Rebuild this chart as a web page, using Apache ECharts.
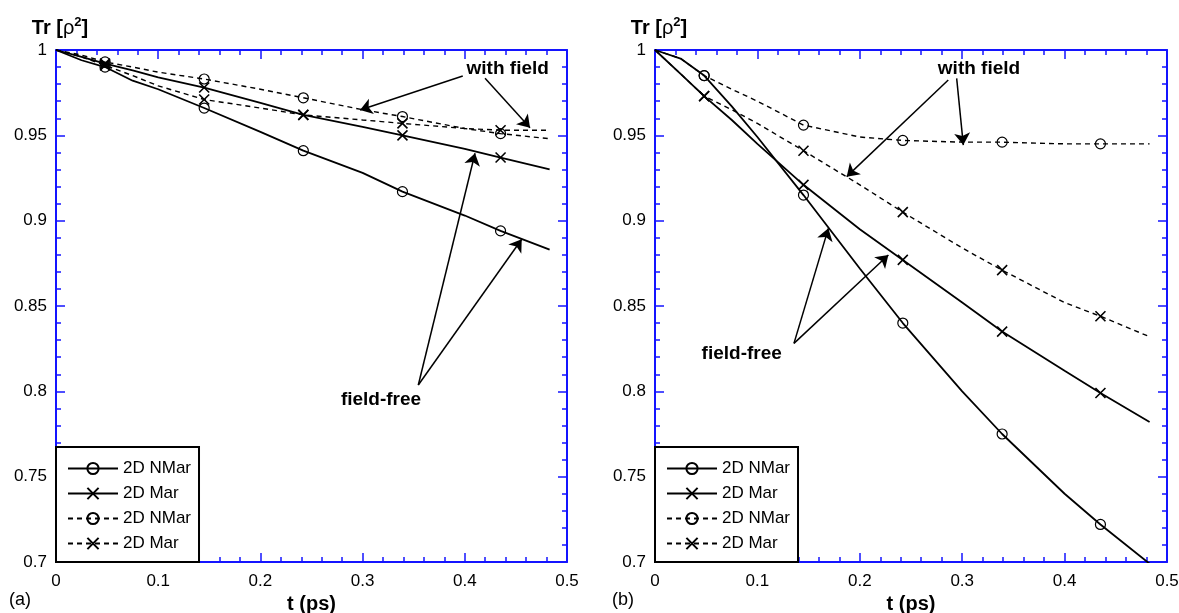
<!DOCTYPE html>
<html><head><meta charset="utf-8">
<script src="https://cdn.jsdelivr.net/npm/echarts@6/dist/echarts.min.js"></script>
<style>html,body{margin:0;padding:0;background:#fff}#c{width:1179px;height:613px}</style>
</head><body><div id="c"></div>
<script>
// ---------------- data ----------------
const tValues = [0, 0.025, 0.048, 0.075, 0.1, 0.145, 0.2, 0.242, 0.3, 0.339, 0.4, 0.435, 0.483];
const markerT = [0.048, 0.145, 0.242, 0.339, 0.435];

// panel (a)
const aSolidNMar = [1, 0.994, 0.990, 0.982, 0.977, 0.966, 0.952, 0.941, 0.928, 0.917, 0.903, 0.894, 0.883];
const aSolidMar  = [1, 0.996, 0.992, 0.988, 0.984, 0.978, 0.969, 0.962, 0.955, 0.950, 0.942, 0.937, 0.930];
const aDashNMar  = [1, 0.997, 0.993, 0.990, 0.987, 0.983, 0.977, 0.972, 0.965, 0.961, 0.954, 0.951, 0.948];
const aDashMar   = [1, 0.996, 0.991, 0.985, 0.979, 0.971, 0.966, 0.962, 0.959, 0.957, 0.954, 0.953, 0.953];

// panel (b)
const bSolidNMar = [1, 0.995, 0.985, 0.967, 0.949, 0.915, 0.872, 0.840, 0.800, 0.775, 0.740, 0.722, 0.699];
const bSolidMar  = [1, 0.986, 0.973, 0.959, 0.945, 0.921, 0.895, 0.877, 0.852, 0.835, 0.812, 0.799, 0.782];
const bDashNMar  = [1, 0.995, 0.985, 0.977, 0.970, 0.956, 0.949, 0.947, 0.946, 0.946, 0.945, 0.945, 0.945];
const bDashMar   = [1, 0.986, 0.973, 0.965, 0.957, 0.941, 0.921, 0.905, 0.884, 0.871, 0.852, 0.844, 0.832];

const seriesNames = ['2D NMar', '2D Mar', '2D NMar ', '2D Mar '];
const xTickLabels = ['0', '0.1', '0.2', '0.3', '0.4', '0.5'];
const yTickLabels = ['0.7', '0.75', '0.8', '0.85', '0.9', '0.95', '1'];
const panelLabels = ['(a)', '(b)'];

// annotations (data coordinates)
const annotA = {
  texts: [{ text: 'with field', at: [0.442, 0.9889] }, { text: 'field-free', at: [0.318, 0.795] }],
  arrows: [
    { from: [0.398, 0.9848], to: [0.2975, 0.9648] },
    { from: [0.4198, 0.9834], to: [0.4638, 0.9545] },
    { from: [0.3545, 0.8037], to: [0.410, 0.9395] },
    { from: [0.3545, 0.8037], to: [0.4557, 0.8891] }
  ]
};
const annotB = {
  texts: [{ text: 'with field', at: [0.3164, 0.9889] }, { text: 'field-free', at: [0.0847, 0.8223] }],
  arrows: [
    { from: [0.2864, 0.9824], to: [0.1872, 0.9258] },
    { from: [0.2946, 0.9834], to: [0.3011, 0.9443] },
    { from: [0.1357, 0.8281], to: [0.1693, 0.8955] },
    { from: [0.1357, 0.8281], to: [0.2279, 0.8799] }
  ]
};

// ---------------- styling / building ----------------
const FONT = 'Liberation Sans, Arial, Helvetica, sans-serif';
const BLUE = '#1414ff';
const X_PATH = 'path://M0,0L10,10M0,10L10,0';

function buildData(values) {
  return tValues.map((t, i) => markerT.indexOf(t) >= 0
    ? [t, values[i]]
    : { value: [t, values[i]], symbol: 'none' });
}

function mkSeries(name, values, g, dashed, isX, annot) {
  const s = {
    name: name, type: 'line', xAxisIndex: 2 * g, yAxisIndex: 2 * g,
    data: buildData(values),
    smooth: false,
    showSymbol: true, showAllSymbol: true,
    symbol: isX ? X_PATH : 'circle',
    symbolSize: 10,
    lineStyle: { color: '#000', width: dashed ? 1.4 : 1.8, type: dashed ? [5, 4] : 'solid' },
    itemStyle: { color: 'rgba(0,0,0,0)', borderColor: '#000', borderWidth: isX ? 1.6 : 1.2 },
    emphasis: { disabled: true },
    z: 3
  };
  if (annot) {
    s.markLine = {
      silent: true, animation: false,
      symbol: ['none', 'arrow'], symbolSize: 12,
      label: { show: false },
      itemStyle: { color: '#000' },
      lineStyle: { color: '#000', width: 1.5, type: 'solid' },
      emphasis: { disabled: true },
      data: annot.arrows.map(a => [{ coord: a.from }, { coord: a.to }])
    };
    s.markPoint = {
      silent: true, animation: false,
      symbol: 'rect', symbolSize: 1,
      itemStyle: { color: 'rgba(0,0,0,0)' },
      label: { show: true, position: 'inside', formatter: '{b}', color: '#000',
               fontFamily: FONT, fontSize: 19, fontWeight: 'bold' },
      emphasis: { disabled: true },
      data: annot.texts.map(tx => ({ name: tx.text, coord: tx.at }))
    };
  }
  return s;
}

const grids = [
  { left: 56, top: 50, width: 511, height: 512, outerBoundsMode: 'none', containLabel: false },
  { left: 655, top: 50, width: 512, height: 512, outerBoundsMode: 'none', containLabel: false }
];

const xAxes = [], yAxes = [];
grids.forEach((gr, g) => {
  const tickCommon = {
    axisLine: { show: true, onZero: false, lineStyle: { color: BLUE, width: 2 } },
    axisTick: { show: true, inside: true, length: 9, lineStyle: { color: BLUE, width: 1.5 } },
    minorTick: { show: true, splitNumber: 5, length: 5, lineStyle: { color: BLUE, width: 1.5 } },
    splitLine: { show: false }
  };
  xAxes.push(Object.assign({
    type: 'value', gridIndex: g, position: 'bottom', min: 0, max: 0.5, interval: 0.1,
    axisLabel: { show: true, margin: 11, color: '#000', fontFamily: FONT, fontSize: 17,
                 formatter: v => xTickLabels[Math.round(v / 0.1)] },
    name: 't (ps)', nameLocation: 'middle', nameGap: 29,
    nameTextStyle: { color: '#000', fontFamily: FONT, fontSize: 20, fontWeight: 'bold' }
  }, tickCommon));
  xAxes.push(Object.assign({
    type: 'value', gridIndex: g, position: 'top', min: 0, max: 0.5, interval: 0.1,
    axisLabel: { show: false }
  }, tickCommon));
  yAxes.push(Object.assign({
    type: 'value', gridIndex: g, position: 'left', min: 0.7, max: 1, interval: 0.05,
    axisLabel: { show: true, margin: 9, color: '#000', fontFamily: FONT, fontSize: 17,
                 formatter: v => yTickLabels[Math.round((v - 0.7) / 0.05)] },
    name: '{a|Tr [}{b|ρ}{c|2}{a|]}', nameLocation: 'end', nameGap: 10,
    nameTextStyle: {
      padding: [0, 0, 0, 8],
      rich: {
        a: { fontFamily: FONT, fontSize: 20, fontWeight: 'bold', color: '#000', lineHeight: 24 },
        b: { fontFamily: FONT, fontSize: 20, color: '#000', lineHeight: 24 },
        c: { fontFamily: FONT, fontSize: 13, fontWeight: 'bold', color: '#000', verticalAlign: 'top', lineHeight: 15 }
      }
    }
  }, tickCommon));
  yAxes.push(Object.assign({
    type: 'value', gridIndex: g, position: 'right', min: 0.7, max: 1, interval: 0.05,
    axisLabel: { show: false }
  }, tickCommon));
});

const series = [
  mkSeries(seriesNames[0], aSolidNMar, 0, false, false, annotA),
  mkSeries(seriesNames[1], aSolidMar, 0, false, true),
  mkSeries(seriesNames[2], aDashNMar, 0, true, false),
  mkSeries(seriesNames[3], aDashMar, 0, true, true),
  mkSeries(seriesNames[0], bSolidNMar, 1, false, false, annotB),
  mkSeries(seriesNames[1], bSolidMar, 1, false, true),
  mkSeries(seriesNames[2], bDashNMar, 1, true, false),
  mkSeries(seriesNames[3], bDashMar, 1, true, true)
];

const legends = grids.map(gr => ({
  data: seriesNames.slice(),
  orient: 'vertical', align: 'left',
  left: gr.left, top: 447,
  padding: [13, 8, 10, 11],
  itemWidth: 50, itemHeight: 14, itemGap: 8,
  backgroundColor: '#fff', borderColor: '#000', borderWidth: 2, borderRadius: 0,
  selectedMode: false,
  formatter: n => n.trim(),
  textStyle: { color: '#000', fontFamily: FONT, fontSize: 17, lineHeight: 17 },
  z: 10
}));

const graphics = [
  { type: 'text', left: 9, top: 591, style: { text: panelLabels[0], fill: '#000', font: '18px ' + FONT } },
  { type: 'text', left: 612, top: 591, style: { text: panelLabels[1], fill: '#000', font: '18px ' + FONT } }
];

const chart = echarts.init(document.getElementById('c'), null, { renderer: 'canvas' });
chart.setOption({
  animation: false,
  backgroundColor: '#fff',
  grid: grids,
  xAxis: xAxes,
  yAxis: yAxes,
  legend: legends,
  series: series,
  graphic: graphics
});
</script></body></html>
